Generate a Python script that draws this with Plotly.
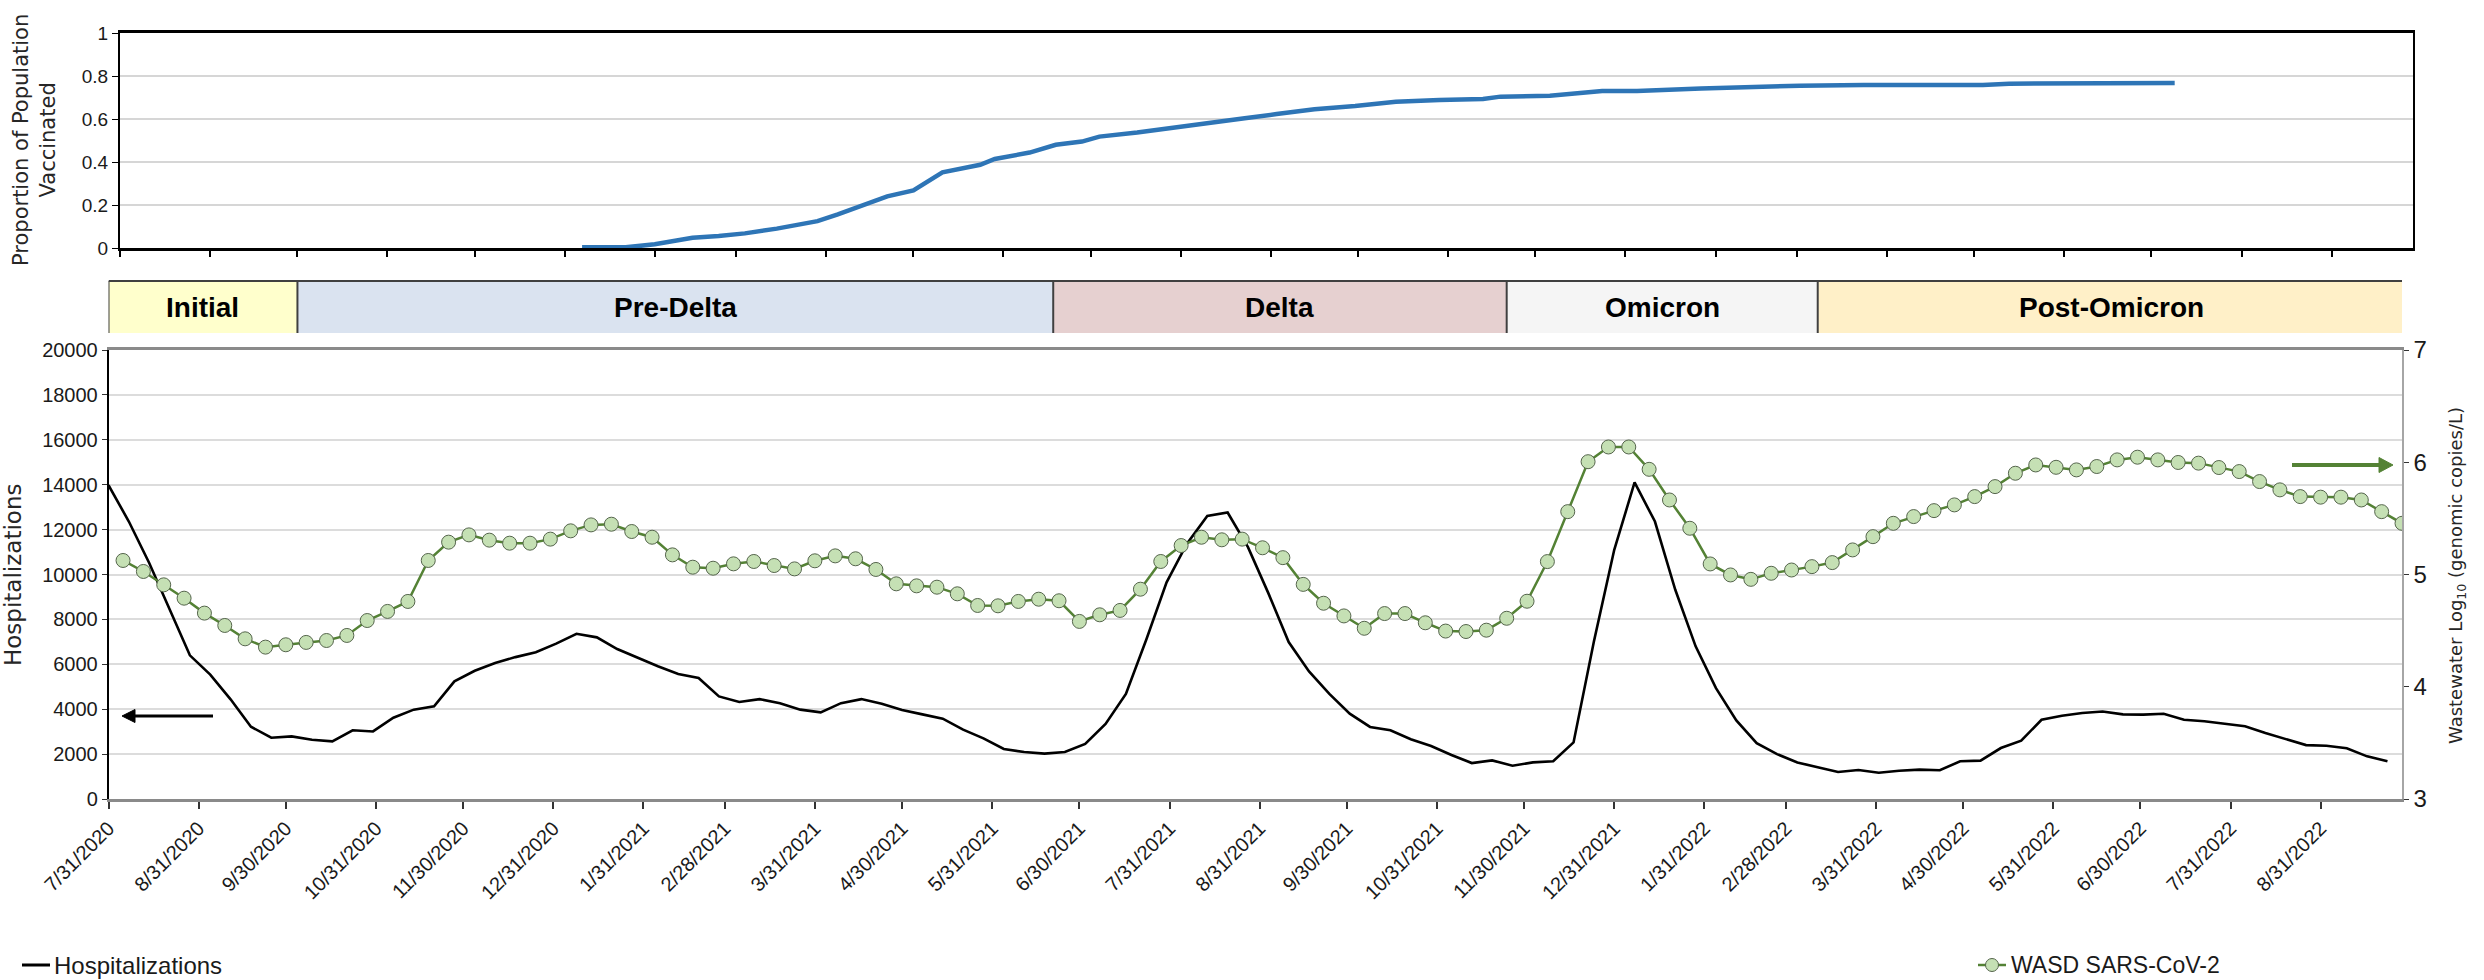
import pandas as pd
import plotly.graph_objects as go

W, H = 2484, 980

# ---- data -------------------------------------------------------------
hosp_start = "2020-07-31"          # weekly hospitalization series
hospitalizations = [
    13980, 12360, 10510, 8460, 6400, 5540, 4440, 3220, 2730, 2790,
    2640, 2570, 3060, 3010, 3620, 3980, 4130, 5240, 5710, 6060,
    6320, 6540, 6920, 7360, 7200, 6680, 6290, 5910, 5570, 5390,
    4570, 4320, 4450, 4270, 3980, 3860, 4270, 4450, 4240, 3960,
    3770, 3580, 3090, 2700, 2230, 2090, 2020, 2090, 2450, 3340,
    4680, 7090, 9650, 11370, 12610, 12760, 11220, 9170, 6990, 5680,
    4680, 3800, 3210, 3060, 2660, 2360, 1960, 1600, 1720, 1480,
    1630, 1680, 2520, 7020, 11100, 14100, 12360, 9320, 6800, 4940,
    3500, 2490, 2000, 1630, 1410, 1200, 1290, 1170, 1260, 1310,
    1280, 1680, 1710, 2270, 2600, 3530, 3710, 3830, 3900, 3770,
    3760, 3800, 3530, 3460, 3350, 3240, 2940, 2660, 2400, 2370,
    2260, 1900, 1680,
]

wasd_start = "2020-08-05"          # weekly wastewater samples
wasd_log10 = [
    5.125, 5.027, 4.908, 4.789, 4.656, 4.546, 4.427, 4.353, 4.374, 4.395,
    4.412, 4.457, 4.590, 4.671, 4.760, 5.125, 5.288, 5.353, 5.306, 5.279,
    5.279, 5.315, 5.389, 5.442, 5.448, 5.383, 5.332, 5.175, 5.065, 5.056,
    5.095, 5.116, 5.080, 5.050, 5.122, 5.166, 5.140, 5.045, 4.917, 4.899,
    4.887, 4.828, 4.724, 4.721, 4.760, 4.780, 4.766, 4.582, 4.641, 4.680,
    4.869, 5.116, 5.258, 5.332, 5.309, 5.315, 5.238, 5.150, 4.912, 4.744,
    4.631, 4.521, 4.652, 4.652, 4.570, 4.496, 4.492, 4.504, 4.610, 4.762,
    5.115, 5.560, 6.005, 6.136, 6.136, 5.937, 5.664, 5.412, 5.094, 4.996,
    4.957, 5.011, 5.040, 5.070, 5.106, 5.219, 5.337, 5.456, 5.516, 5.569,
    5.620, 5.694, 5.783, 5.902, 5.976, 5.955, 5.932, 5.962, 6.021, 6.045,
    6.021, 5.998, 5.992, 5.953, 5.917, 5.828, 5.754, 5.694, 5.689, 5.689,
    5.664, 5.560, 5.456,
]

vacc_dates = [
    "2021-01-06", "2021-01-21", "2021-01-31", "2021-02-13", "2021-02-22",
    "2021-03-03", "2021-03-14", "2021-03-28", "2021-04-04", "2021-04-12",
    "2021-04-21", "2021-04-30", "2021-05-10", "2021-05-23", "2021-05-28",
    "2021-06-09", "2021-06-18", "2021-06-27", "2021-07-03", "2021-07-16",
    "2021-07-31", "2021-08-11", "2021-08-22", "2021-09-02", "2021-09-15",
    "2021-09-29", "2021-10-13", "2021-10-28", "2021-11-12", "2021-11-18",
    "2021-12-05", "2021-12-23", "2022-01-04", "2022-01-26", "2022-02-10",
    "2022-03-01", "2022-03-23", "2022-04-11", "2022-05-03", "2022-05-12",
    "2022-06-02", "2022-06-21", "2022-07-02", "2022-07-08",
]
vacc_proportion = [
    0.003, 0.003, 0.017, 0.048, 0.056, 0.068, 0.090, 0.125, 0.156, 0.194,
    0.240, 0.268, 0.352, 0.387, 0.414, 0.444, 0.480, 0.495, 0.518, 0.537,
    0.562, 0.580, 0.603, 0.623, 0.645, 0.660, 0.680, 0.688, 0.693, 0.704,
    0.708, 0.730, 0.730, 0.742, 0.750, 0.755, 0.758, 0.758, 0.758, 0.764,
    0.764, 0.764, 0.768, 0.768,
]

eras = ["Initial", "Pre-Delta", "Delta", "Omicron", "Post-Omicron"]
era_bounds = ["2020-07-31", "2020-10-04", "2021-06-21", "2021-11-24",
              "2022-03-11", "2022-09-29"]
era_colors = ["#FFFFCC", "#DAE3F0", "#E6D0D0", "#F5F5F5", "#FFF0C8"]

x_range = ["2020-07-31", "2022-09-28"]
month_ticks = pd.date_range("2020-07-31", "2022-08-31", freq=pd.offsets.MonthEnd())
month_labels = [f"{d.month}/{d.day}/{d.year}" for d in month_ticks]

hosp_dates = pd.date_range(hosp_start, periods=len(hospitalizations), freq="7D")
wasd_dates = pd.date_range(wasd_start, periods=len(wasd_log10), freq="7D")


# ---- helpers: pixel -> paper -----------------------------------------
def px(x):
    return x / W


def py(y):
    return 1 - y / H


GREEN = "#548235"
SANS = "Liberation Sans, Arial, sans-serif"
WIDE = "DejaVu Sans, Verdana, sans-serif"

fig = go.Figure()

fig.add_trace(go.Scatter(
    x=vacc_dates, y=vacc_proportion, mode="lines",
    line=dict(color="#2E75B6", width=4.5),
    xaxis="x2", yaxis="y2", name="Proportion Vaccinated",
))
fig.add_trace(go.Scatter(
    x=hosp_dates, y=hospitalizations, mode="lines",
    line=dict(color="black", width=2.6),
    xaxis="x", yaxis="y", name="Hospitalizations",
))
fig.add_trace(go.Scatter(
    x=wasd_dates, y=wasd_log10, mode="lines+markers",
    line=dict(color=GREEN, width=2.5),
    marker=dict(symbol="circle", size=14, color="#C5E0B4",
                line=dict(color="#55654c", width=1)),
    xaxis="x", yaxis="y3", name="WASD SARS-CoV-2",
))

axis_common = dict(automargin=False, showgrid=False, zeroline=False)

fig.update_layout(
    width=W, height=H, template="none",
    margin=dict(l=0, r=0, t=0, b=0),
    paper_bgcolor="white", plot_bgcolor="white",
    showlegend=False,
    # bottom panel
    xaxis=dict(
        **axis_common, domain=[px(108.5), px(2402)], range=x_range,
        type="date", anchor="y",
        tickmode="array", tickvals=month_ticks, ticktext=month_labels,
        tickangle=-45, tickfont=dict(family=SANS, size=20, color="#1a1a1a"),
        ticks="outside", ticklen=7, tickwidth=1.5, tickcolor="#333",
        showline=True, linecolor="#8a8a8a", linewidth=2.5, mirror=True,
    ),
    yaxis=dict(
        domain=[py(799), py(350)], range=[0, 20000], anchor="x",
        automargin=False, zeroline=False,
        tickmode="linear", tick0=0, dtick=2000, tickformat="d",
        showgrid=True, gridcolor="#DCDCDC", gridwidth=2,
        tickfont=dict(family=SANS, size=20, color="#1a1a1a"),
        ticks="outside", ticklen=5, tickcolor="#333",
        showline=True, linecolor="black", linewidth=1.5,
    ),
    yaxis3=dict(
        **axis_common, overlaying="y", side="right", anchor="x",
        range=[3, 7], tickmode="array", tickvals=[3, 4, 5, 6, 7],
        tickfont=dict(family=SANS, size=24, color="#1a1a1a"),
        ticks="outside", ticklen=5, tickcolor="#333",
        showline=True, linecolor="#A6A6A6", linewidth=1.5,
    ),
    # top panel
    xaxis2=dict(
        **axis_common, domain=[px(120), px(2413)], range=x_range,
        type="date", anchor="y2",
        tickmode="array", tickvals=month_ticks, showticklabels=False,
        ticks="outside", ticklen=6, tickwidth=1.5, tickcolor="black",
        showline=True, linecolor="black", linewidth=2.5, mirror=True,
    ),
    yaxis2=dict(
        domain=[py(248), py(33)], range=[0, 1], anchor="x2",
        automargin=False, zeroline=False,
        tickmode="linear", tick0=0, dtick=0.2,
        showgrid=True, gridcolor="#D6D6D6", gridwidth=1.5,
        tickfont=dict(family=SANS, size=19, color="#1a1a1a"),
        ticks="outside", ticklen=6, tickcolor="black",
        showline=True, linecolor="black", linewidth=2, mirror=True,
    ),
)

# ---- era bands between the two panels --------------------------------
band_top, band_bottom = py(281), py(333)
shapes = []
for i, name in enumerate(eras):
    shapes.append(dict(
        type="rect", xref="x", yref="paper",
        x0=era_bounds[i], x1=era_bounds[i + 1], y0=band_bottom, y1=band_top,
        fillcolor=era_colors[i], line=dict(width=0), layer="below",
    ))
shapes.append(dict(
    type="line", xref="x", yref="paper",
    x0=era_bounds[0], x1=era_bounds[-1], y0=band_top, y1=band_top,
    line=dict(color="#404040", width=2),
))
for b in era_bounds:
    shapes.append(dict(
        type="line", xref="x", yref="paper",
        x0=b, x1=b, y0=band_bottom, y1=band_top,
        line=dict(color="#404040", width=2),
    ))

annotations = []
for i, name in enumerate(eras):
    mid = pd.Timestamp(era_bounds[i]) + (pd.Timestamp(era_bounds[i + 1]) -
                                         pd.Timestamp(era_bounds[i])) / 2
    annotations.append(dict(
        x=mid, y=(band_top + band_bottom) / 2, xref="x", yref="paper",
        text=f"<b>{name}</b>", showarrow=False,
        font=dict(family=SANS, size=28, color="black"),
        xanchor="center", yanchor="middle",
    ))

# ---- axis titles -----------------------------------------------------
annotations += [
    dict(x=px(35), y=py(140), xref="paper", yref="paper", showarrow=False,
         text="Proportion of Population<br>Vaccinated", textangle=-90,
         font=dict(family=WIDE, size=21, color="#262626"),
         xanchor="center", yanchor="middle"),
    dict(x=px(13), y=py(575), xref="paper", yref="paper", showarrow=False,
         text="Hospitalizations", textangle=-90,
         font=dict(family=WIDE, size=23, color="#262626"),
         xanchor="center", yanchor="middle"),
    dict(x=px(2457), y=py(576), xref="paper", yref="paper", showarrow=False,
         text="Wastewater Log<sub>10</sub> (genomic copies/L)", textangle=-90,
         font=dict(family=WIDE, size=18, color="#262626"),
         xanchor="center", yanchor="middle"),
]


# ---- arrows indicating which axis each series uses -------------------
def arrow(tip_x, tip_y, tail_x, color, width, head_len, head_half):
    d = 1 if tail_x > tip_x else -1
    base_x = tip_x + d * head_len
    return [
        dict(type="line", xref="paper", yref="paper",
             x0=px(base_x), x1=px(tail_x), y0=py(tip_y), y1=py(tip_y),
             line=dict(color=color, width=width)),
        dict(type="path", xref="paper", yref="paper",
             path=(f"M {px(tip_x)} {py(tip_y)} "
                   f"L {px(base_x)} {py(tip_y - head_half)} "
                   f"L {px(base_x)} {py(tip_y + head_half)} Z"),
             fillcolor=color, line=dict(color=color, width=1)),
    ]


shapes += arrow(122, 716, 213, "black", 3, 13, 6.5)
shapes += arrow(2393, 465, 2292, GREEN, 4, 14, 7.5)

# ---- legend entries --------------------------------------------------
leg_y = py(965)
shapes += [
    dict(type="line", xref="paper", yref="paper",
         x0=px(22), x1=px(50), y0=leg_y, y1=leg_y,
         line=dict(color="black", width=3)),
    dict(type="line", xref="paper", yref="paper",
         x0=px(1978), x1=px(2006), y0=leg_y, y1=leg_y,
         line=dict(color=GREEN, width=2.5)),
    dict(type="circle", xref="paper", yref="paper",
         x0=px(1985.5), x1=px(1998.5), y0=py(971.5), y1=py(958.5),
         fillcolor="#C5E0B4", line=dict(color="#55654c", width=1)),
]
annotations += [
    dict(x=px(52), y=leg_y, xref="paper", yref="paper", showarrow=False,
         text="Hospitalizations", xanchor="left", yanchor="middle",
         font=dict(family=SANS, size=24, color="#1a1a1a")),
    dict(x=px(2009), y=leg_y, xref="paper", yref="paper", showarrow=False,
         text="WASD SARS-CoV-2", xanchor="left", yanchor="middle",
         font=dict(family=SANS, size=23, color="#1a1a1a")),
]

fig.update_layout(shapes=shapes, annotations=annotations)

fig.write_html("out.html")
